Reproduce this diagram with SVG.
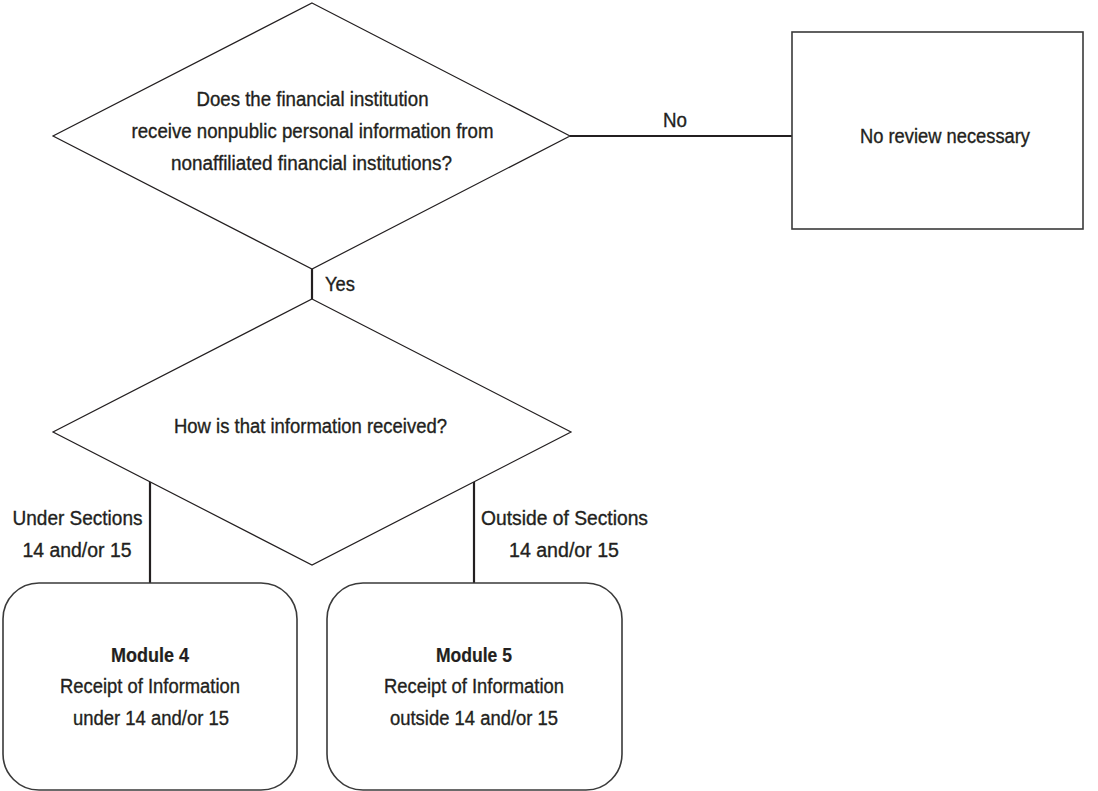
<svg xmlns="http://www.w3.org/2000/svg" width="1098" height="791" viewBox="0 0 1098 791">
<style>
  .t { font-family: "Liberation Sans", Arial, sans-serif; font-size: 20px; fill: #231f20; stroke: #231f20; stroke-width: 0.35; text-anchor: middle; }
  .b { font-weight: bold; stroke-width: 0.2; }
  .dia { fill: #fff; stroke: #231f20; stroke-width: 1.2; }
  .box { fill: #fff; stroke: #3a3a3a; stroke-width: 1.6; }
  .conn { fill: none; stroke: #231f20; stroke-width: 2.2; }
</style>
<rect width="1098" height="791" fill="#fff"/>
<g id="connectors">
  <line class="conn" x1="570" y1="136" x2="792" y2="136"/>
  <line class="conn" x1="312" y1="269" x2="312" y2="299"/>
  <line class="conn" x1="150" y1="481.5" x2="150" y2="583"/>
  <line class="conn" x1="474" y1="482" x2="474" y2="583"/>
  <text class="t" x="675" y="127" textLength="24" lengthAdjust="spacingAndGlyphs">No</text>
  <text class="t" x="340" y="291" textLength="30" lengthAdjust="spacingAndGlyphs">Yes</text>
  <text class="t" x="77.5" y="525" textLength="130" lengthAdjust="spacingAndGlyphs">Under Sections</text>
  <text class="t" x="77" y="557" textLength="109" lengthAdjust="spacingAndGlyphs">14 and/or 15</text>
  <text class="t" x="564.5" y="525" textLength="167" lengthAdjust="spacingAndGlyphs">Outside of Sections</text>
  <text class="t" x="564" y="557" textLength="110" lengthAdjust="spacingAndGlyphs">14 and/or 15</text>
</g>
<g id="decision1">
  <polygon class="dia" points="312,3 570,136 312,269 53,136"/>
  <text class="t" x="312.5" y="106" textLength="232" lengthAdjust="spacingAndGlyphs">Does the financial institution</text>
  <text class="t" x="312.5" y="138" textLength="362" lengthAdjust="spacingAndGlyphs">receive nonpublic personal information from</text>
  <text class="t" x="311.5" y="170" textLength="281" lengthAdjust="spacingAndGlyphs">nonaffiliated financial institutions?</text>
</g>
<g id="no-review">
  <rect class="box" x="792" y="32" width="291" height="197"/>
  <text class="t" x="945" y="143" textLength="170" lengthAdjust="spacingAndGlyphs">No review necessary</text>
</g>
<g id="decision2">
  <polygon class="dia" points="312,299 571,432 312,565 53,432"/>
  <text class="t" x="310.5" y="433" textLength="273" lengthAdjust="spacingAndGlyphs">How is that information received?</text>
</g>
<g id="module4">
  <rect class="box" x="3" y="583" width="294" height="207" rx="36" ry="36"/>
  <text class="t b" x="150" y="662" textLength="78" lengthAdjust="spacingAndGlyphs">Module 4</text>
  <text class="t" x="150" y="693" textLength="180" lengthAdjust="spacingAndGlyphs">Receipt of Information</text>
  <text class="t" x="151" y="725" textLength="156" lengthAdjust="spacingAndGlyphs">under 14 and/or 15</text>
</g>
<g id="module5">
  <rect class="box" x="327" y="583" width="295" height="207" rx="36" ry="36"/>
  <text class="t b" x="474" y="662" textLength="76" lengthAdjust="spacingAndGlyphs">Module 5</text>
  <text class="t" x="474" y="693" textLength="180" lengthAdjust="spacingAndGlyphs">Receipt of Information</text>
  <text class="t" x="474" y="725" textLength="168" lengthAdjust="spacingAndGlyphs">outside 14 and/or 15</text>
</g>
</svg>
